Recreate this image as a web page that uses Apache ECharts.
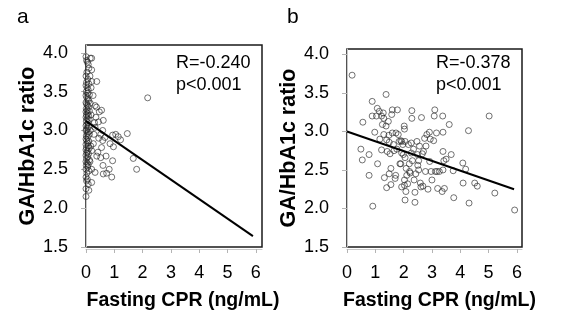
<!DOCTYPE html>
<html>
<head>
<meta charset="utf-8">
<script src="https://cdn.jsdelivr.net/npm/echarts@6/dist/echarts.min.js"></script>
<style>
html,body{margin:0;padding:0;background:#fff;}
#chart{width:561px;height:327px;}
</style>
</head>
<body>
<div id="chart"></div>
<script>
// ---- Data ----
const panelLabels = ['a', 'b'];
const statsA = ['R=-0.240', 'p<0.001'];
const statsB = ['R=-0.378', 'p<0.001'];
const xTitle = 'Fasting CPR (ng/mL)';
const yTitle = 'GA/HbA1c ratio';
const xTicks = [0, 1, 2, 3, 4, 5, 6];
const yTicks = [1.5, 2.0, 2.5, 3.0, 3.5, 4.0];

// Panel a: fasting CPR (ng/mL) and GA/HbA1c ratio
const aCPR = [
  0.00,0.02,0.05,0.08,0.10,0.03,0.00,0.06,0.02,0.10,0.00,0.04,0.08,0.01,0.05,0.12,0.00,0.03,0.07,0.10,
  0.00,0.02,0.05,0.09,0.01,0.04,0.12,0.00,0.06,0.02,0.09,0.00,0.04,0.11,0.01,0.07,0.03,0.00,0.10,0.05,
  0.02,0.00,0.08,0.04,0.12,0.01,0.06,0.00,0.03,0.10,0.05,0.00,0.08,0.02,0.11,0.00,0.05,0.03,0.09,0.00,
  0.06,0.02,0.12,0.00,0.04,0.08,0.01,0.06,0.00,0.10,0.03,0.00,0.05,0.02,0.08,0.00,0.10,0.00,0.15,0.20,
  0.14,0.18,0.15,0.18,0.15,0.17,0.14,0.20,
  0.20,0.20,0.38,0.32,0.37,0.47,0.55,0.35,0.61,0.44,0.32,0.59,0.52,0.67,0.94,1.14,1.22,1.46,0.85,0.97,
  0.59,0.55,0.26,0.20,0.38,0.52,0.71,0.94,1.67,1.79,0.82,0.73,0.91,0.61,0.32,0.20,2.18,0.25,0.30,0.45,
  0.28,0.42,1.05,0.60
];
const aRatio = [
  3.95,3.90,3.88,3.85,3.80,3.75,3.70,3.66,3.62,3.60,3.58,3.55,3.52,3.50,3.48,3.46,3.45,3.42,3.40,3.38,
  3.36,3.34,3.32,3.30,3.28,3.26,3.25,3.24,3.22,3.20,3.19,3.17,3.15,3.14,3.12,3.10,3.08,3.06,3.05,3.03,
  3.01,3.00,2.98,2.96,2.95,2.93,2.91,2.89,2.87,2.86,2.84,2.82,2.80,2.78,2.77,2.75,2.73,2.71,2.70,2.68,
  2.66,2.64,2.62,2.60,2.58,2.56,2.55,2.53,2.50,2.48,2.45,2.40,2.37,2.35,2.31,2.25,2.23,2.15,3.93,3.78,
  3.70,3.55,3.35,3.20,3.00,2.80,2.60,2.33,
  3.93,3.63,3.63,3.32,3.30,3.24,3.26,3.17,3.13,3.11,3.04,3.00,2.95,2.91,2.94,2.92,2.88,2.96,2.83,2.79,
  2.87,2.78,2.83,2.74,2.67,2.65,2.67,2.61,2.64,2.50,2.50,2.45,2.40,2.44,2.46,2.50,3.42,3.45,3.10,2.90,
  2.95,2.72,2.95,2.55
];
const aFitCPR = [0, 5.9];
const aFitRatio = [3.12, 1.64];

// Panel b
const bCPR = [
  0.18,0.49,0.54,0.56,0.78,0.78,0.89,0.89,0.91,0.98,1.07,1.04,1.08,1.14,1.16,1.22,1.25,1.22,1.28,1.30,
  1.30,1.32,1.38,1.38,1.40,1.40,1.42,1.46,1.48,1.49,1.49,1.52,1.55,1.55,1.58,1.60,1.60,1.64,1.66,1.70,
  1.72,1.73,1.76,1.78,1.81,1.84,1.87,1.90,1.90,1.93,1.93,1.93,1.97,1.99,2.02,2.03,2.03,2.03,2.05,2.05,
  2.08,2.05,2.09,2.11,2.14,2.17,2.20,2.21,2.23,2.27,2.27,2.29,2.29,2.31,2.35,2.37,2.40,2.40,2.43,2.47,
  2.49,2.50,2.53,2.53,2.56,2.59,2.61,2.63,2.66,2.68,2.70,2.74,2.77,2.79,2.82,2.86,2.91,2.92,2.94,2.97,
  3.00,3.06,3.08,3.10,3.12,3.16,3.18,3.20,3.26,3.36,3.38,3.39,3.39,3.39,3.42,3.44,3.50,3.61,3.68,3.75,
  3.77,4.09,4.10,4.19,4.29,4.31,4.51,4.60,5.02,5.22,5.92
];
const bRatio = [
  3.73,2.77,2.63,3.12,2.70,2.43,3.39,3.20,2.03,2.99,3.30,3.20,2.58,3.26,2.90,3.20,3.09,2.76,3.24,3.17,
  2.96,2.40,3.48,3.07,2.89,2.27,2.74,3.13,2.95,2.86,2.45,2.71,2.31,2.52,3.22,3.28,2.98,2.83,2.75,2.39,
  2.43,2.98,2.77,3.28,2.96,2.87,2.58,2.88,2.58,2.87,2.72,2.28,2.83,2.70,3.07,3.03,2.37,2.30,2.87,2.66,
  2.22,2.11,2.52,2.43,2.32,2.83,2.58,2.48,2.46,2.72,2.85,3.27,3.17,2.62,2.77,2.37,2.21,2.08,2.45,2.87,
  2.70,2.56,2.62,2.50,2.81,2.33,2.28,3.18,2.71,2.29,2.74,2.91,2.48,2.81,2.96,2.25,2.99,2.61,2.90,2.48,
  2.37,2.88,3.20,3.28,2.48,2.98,2.48,2.26,2.48,2.22,3.20,2.99,2.74,2.50,2.62,2.26,2.64,3.09,2.70,2.49,
  2.14,2.59,2.33,2.51,3.01,2.07,2.33,2.29,3.20,2.20,1.98
];
const bFitCPR = [0, 5.9];
const bFitRatio = [3.00, 2.25];

// ---- Build ----
const zip = (xs, ys) => xs.map((x, i) => [x, ys[i]]);
const FONT = 'Liberation Sans, Arial, sans-serif';

function xAxisFor(gridIndex, maxV, namePad) {
  return {
    type: 'value', gridIndex, min: 0, max: maxV, interval: 1, offset: 2,
    name: xTitle, nameLocation: 'middle', nameGap: 42,
    nameTextStyle: { fontFamily: FONT, fontWeight: 'bold', fontSize: 19.5, color: '#000', padding: [0, 0, 0, namePad] },
    axisLine: { show: true, lineStyle: { color: '#c8c8c8', width: 1 } },
    axisTick: { show: true, length: 4, lineStyle: { color: '#b4b4b4' }, customValues: xTicks },
    axisLabel: { customValues: xTicks, margin: 15, fontFamily: FONT, fontSize: 18, color: '#000' },
    splitLine: { show: false }
  };
}
function yAxisFor(gridIndex, maxV) {
  return {
    type: 'value', gridIndex, min: 1.5, max: maxV, interval: 0.5,
    name: yTitle, nameLocation: 'middle', nameGap: 47, nameRotate: 90,
    nameTextStyle: { fontFamily: FONT, fontWeight: 'bold', fontSize: 21.5, color: '#000' },
    axisLine: { show: true, lineStyle: { color: '#c8c8c8', width: 1 } },
    axisTick: { show: true, length: 5, lineStyle: { color: '#b4b4b4' }, customValues: yTicks },
    axisLabel: { customValues: yTicks, margin: 18, fontFamily: FONT, fontSize: 18, color: '#000',
                 formatter: v => v.toFixed(1) },
    splitLine: { show: false }
  };
}
const scatterStyle = {
  type: 'scatter', symbol: 'circle', symbolSize: 6,
  itemStyle: { color: 'rgba(0,0,0,0)', borderColor: '#222', borderWidth: 0.8 },
  z: 3
};
const lineStyle = {
  type: 'line', symbol: 'none', lineStyle: { color: '#000', width: 2 }, z: 4, silent: true
};

const option = {
  animation: false,
  backgroundColor: '#fff',
  grid: [
    { left: 86, right: 299, top: 45, bottom: 80, show: true, borderColor: '#1a1a1a', borderWidth: 1.5, backgroundColor: 'transparent' },
    { left: 347, right: 39, top: 49, bottom: 80, show: true, borderColor: '#1a1a1a', borderWidth: 1.5, backgroundColor: 'transparent' }
  ],
  xAxis: [xAxisFor(0, 6.22, 18), xAxisFor(1, 6.18, 10)],
  yAxis: [yAxisFor(0, 4.1), yAxisFor(1, 4.07)],
  series: [
    Object.assign({}, scatterStyle, { xAxisIndex: 0, yAxisIndex: 0, data: zip(aCPR, aRatio) }),
    Object.assign({}, lineStyle, { xAxisIndex: 0, yAxisIndex: 0, data: zip(aFitCPR, aFitRatio) }),
    Object.assign({}, scatterStyle, { xAxisIndex: 1, yAxisIndex: 1, data: zip(bCPR, bRatio) }),
    Object.assign({}, lineStyle, { xAxisIndex: 1, yAxisIndex: 1, data: zip(bFitCPR, bFitRatio) })
  ],
  graphic: [
    { type: 'text', left: 17, top: 7, style: { text: panelLabels[0], font: '21px ' + FONT, fill: '#000' } },
    { type: 'text', left: 287, top: 7, style: { text: panelLabels[1], font: '21px ' + FONT, fill: '#000' } },
    { type: 'text', left: 176, top: 52, style: { text: statsA.join('\n'), font: '18px ' + FONT, lineHeight: 22, fill: '#000' } },
    { type: 'text', left: 436, top: 52, style: { text: statsB.join('\n'), font: '18px ' + FONT, lineHeight: 22, fill: '#000' } }
  ]
};

const chart = echarts.init(document.getElementById('chart'), null, { renderer: 'canvas' });
chart.setOption(option);
</script>
</body>
</html>
